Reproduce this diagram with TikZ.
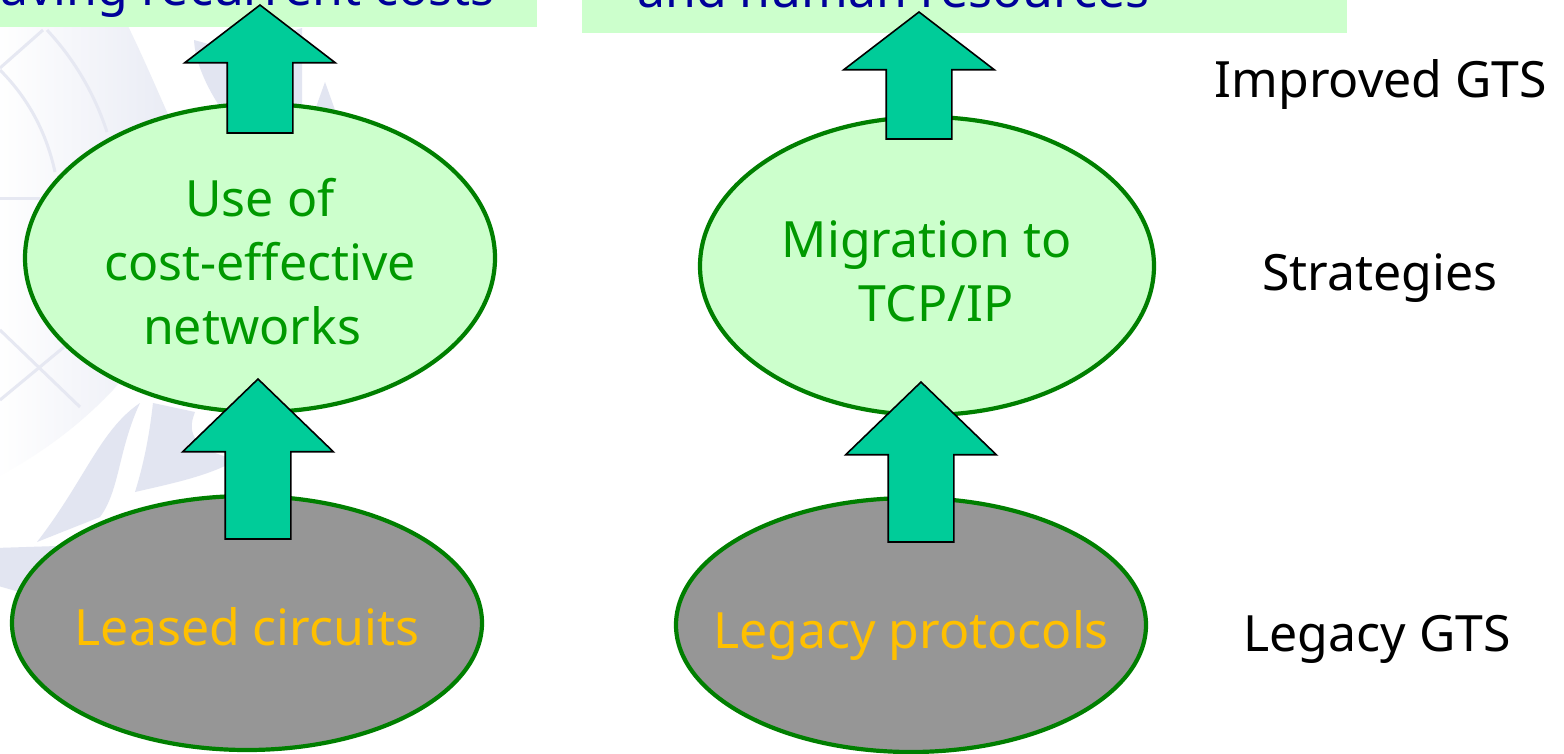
\documentclass[tikz,border=0pt]{standalone}
\usepackage{fontspec}
\setmainfont{Noto Sans}
\usetikzlibrary{positioning, shapes.geometric, shapes.arrows}
\definecolor{palegreen}{HTML}{CCFFCC}
\definecolor{darkblue}{HTML}{000099}
\definecolor{midgreen}{HTML}{009900}
\definecolor{rimgreen}{HTML}{007F00}
\definecolor{legacygray}{HTML}{969696}
\definecolor{legacygold}{HTML}{FFC000}
\definecolor{arrowgreen}{HTML}{00CC99}
\definecolor{emblem}{HTML}{E2E5F1}
\definecolor{emblemline}{HTML}{E6E8F2}
\newcommand{\lowline}[2]{\raisebox{-#1}[0pt][0pt]{\makebox[0pt]{#2}}}
\tikzstyle{oval}=[ellipse, draw=rimgreen, line width=4.2pt, inner sep=0pt, outer sep=0pt, minimum width=470pt, align=center, font=\fontsize{50}{64}\selectfont]
\tikzstyle{strategy}=[oval, fill=palegreen, text=midgreen]
\tikzstyle{legacy}=[oval, fill=legacygray, text=legacygold, minimum height=254pt]
\tikzstyle{band}=[fill=palegreen, inner sep=0pt, outer sep=0pt, anchor=north west]
\tikzstyle{goal}=[text=darkblue, font=\fontsize{50}{56}\selectfont, inner sep=0pt, anchor=base west]
\tikzstyle{level}=[font=\fontsize{50}{56}\selectfont, inner sep=0pt]
\tikzstyle{blockup}=[single arrow, draw=black, line width=1.6pt, fill=arrowgreen, shape border rotate=90, inner sep=32pt, outer sep=0pt, minimum width=149pt, single arrow head extend=42.5pt, anchor=tip]

\begin{document}
\begin{tikzpicture}[x=1pt, y=-1pt]
  \useasboundingbox (0,0) rectangle (1564,753);
  \fill[white] (0,0) rectangle (1564,753);
  \shade[left color=white, right color=emblem] (-5,20) -- (125,20) .. controls (140,50) and (155,85) .. (167,112) -- (230,250) -- (113,390) .. controls (80,425) and (40,455) .. (-5,478) -- cycle;
  \fill[emblem] (194,40) -- (230,50) -- (302,28) -- (302,110) -- (222,110) .. controls (205,85) and (195,60) .. cycle;
  \fill[emblem] (325,82) -- (315,110) -- (335,110) -- cycle;
  \fill[emblem] (140,403) .. controls (100,430) and (85,480) .. (37,542) -- (100,517) .. controls (120,490) and (118,450) .. cycle;
  \fill[emblem] (153,403) -- (195,412) .. controls (190,425) and (185,445) .. (227,457) -- (227,465) .. controls (200,478) and (165,485) .. (135,492) .. controls (145,460) and (150,430) .. cycle;
  \fill[emblem] (-5,548) -- (57,546) -- (30,595) -- (-5,585) -- cycle;
  \draw[emblemline, line width=3pt] (43,30) -- (0,68);
  \draw[emblemline, line width=3pt] (47,30) .. controls (75,60) and (95,95) .. (107,132);
  \draw[emblemline, line width=3pt] (0,70) .. controls (30,100) and (47,135) .. (55,172);
  \draw[emblemline, line width=3pt] (0,198) -- (40,198);
  \draw[emblemline, line width=3pt] (0,330) -- (80,407);
  \draw[emblemline, line width=3pt] (64,347) -- (0,400);

  \node[band, minimum width=537pt, minimum height=27pt] (costband) at (0,0) {};
  \node[band, minimum width=765pt, minimum height=33pt] (staffband) at (582,0) {};
  \node[goal] (costs) at (0,5) {aving recurrent costs};
  \node[goal] (staff) at (637,7) {and human resources};

  \node[strategy, minimum height=308pt] (effective) at (260,258) {\rule{0pt}{45pt}Use of\\cost-effective\\networks\hspace*{16pt}};
  \node[legacy] (leased) at (247,623) {\lowline{22pt}{Leased circuits}};
  \node[strategy, minimum width=454pt, minimum height=298pt] (migration) at (927,266) {\rule{0pt}{47pt}Migration to\\\hspace*{18pt}TCP/IP};
  \node[legacy] (protocols) at (911,625) {\lowline{23pt}{Legacy protocols}};

  \node[blockup, single arrow tip angle=105, minimum height=128pt] (arrowa) at (260,5) {};
  \node[blockup, single arrow tip angle=92, minimum height=160pt] (arrowb) at (258,379) {};
  \node[blockup, single arrow tip angle=105, minimum height=127pt] (arrowc) at (919,12) {};
  \node[blockup, single arrow tip angle=92, minimum height=160pt] (arrowd) at (921,382) {};

  \node[level] (improved) at (1381,84) {Improved GTS};
  \node[level] (strategies) at (1380,278) {Strategies};
  \node[level] (legacygts) at (1377,639) {Legacy GTS};
\end{tikzpicture}
\end{document}
